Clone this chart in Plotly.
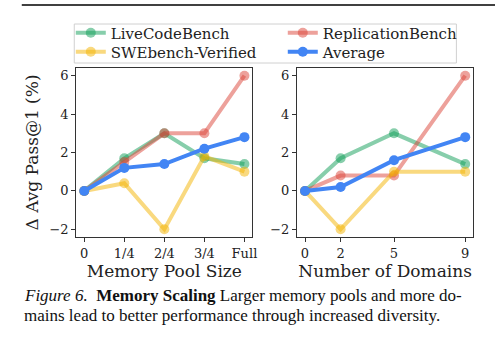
import plotly.graph_objects as go

series = ["LiveCodeBench", "ReplicationBench", "SWEbench-Verified", "Average"]
colors = ["rgba(15,157,88,0.5)", "rgba(219,68,55,0.5)", "rgba(244,180,0,0.5)", "rgba(66,133,244,1)"]
legend_rows = ["legend", "legend", "legend2", "legend2"]

pool_x = [0, 1, 2, 3, 4]
pool_labels = ["0", "1/4", "2/4", "3/4", "Full"]
pool_vals = {
    "LiveCodeBench": [0, 1.7, 3.0, 1.7, 1.4],
    "ReplicationBench": [0, 1.5, 3.0, 3.0, 6.0],
    "SWEbench-Verified": [0, 0.4, -2.0, 1.8, 1.0],
    "Average": [0, 1.2, 1.4, 2.2, 2.8],
}

dom_x = [0, 2, 5, 9]
dom_vals = {
    "LiveCodeBench": [0, 1.7, 3.0, 1.4],
    "ReplicationBench": [0, 0.8, 0.8, 6.0],
    "SWEbench-Verified": [0, -2.0, 1.0, 1.0],
    "Average": [0, 0.2, 1.6, 2.8],
}

y_ticks = [-2, 0, 2, 4, 6]

FONT = "DejaVu Serif, Liberation Serif, serif"
fig = go.Figure()

for name, col, lg in zip(series, colors, legend_rows):
    fig.add_trace(go.Scatter(
        x=pool_x, y=pool_vals[name], mode="lines+markers", name=name,
        line=dict(color=col, width=4), marker=dict(color=col, size=10),
        xaxis="x", yaxis="y", legendgroup=name, showlegend=True, legend=lg))
for name, col in zip(series, colors):
    fig.add_trace(go.Scatter(
        x=dom_x, y=dom_vals[name], mode="lines+markers", name=name,
        line=dict(color=col, width=4), marker=dict(color=col, size=10),
        xaxis="x2", yaxis="y2", legendgroup=name, showlegend=False))

axis_common = dict(showgrid=False, zeroline=False, showline=True, mirror=True,
                   linecolor="#333", linewidth=1, ticks="outside", ticklen=4,
                   tickcolor="#333", tickfont=dict(family=FONT, size=13, color="#222"))

legend_common = dict(orientation="h", xanchor="left", yanchor="middle",
                     entrywidth=167, entrywidthmode="pixels", bgcolor="rgba(0,0,0,0)",
                     borderwidth=0, font=dict(family=FONT, size=15, color="#222"), itemwidth=30)

fig.update_layout(
    width=500, height=344, margin=dict(l=0, r=0, t=0, b=0),
    paper_bgcolor="white", plot_bgcolor="white",
    xaxis=dict(domain=[0.154, 0.51], range=[-0.2, 4.2], tickvals=pool_x, ticktext=pool_labels,
               title=dict(text="Memory Pool Size", font=dict(family=FONT, size=17, color="#222"), standoff=4),
               anchor="y", **axis_common),
    yaxis=dict(domain=[0.311, 0.8023], range=[-2.4, 6.4], tickvals=y_ticks,
               title=dict(text="Δ Avg Pass@1 (%)", font=dict(family=FONT, size=17, color="#222"), standoff=6),
               anchor="x", **axis_common),
    xaxis2=dict(domain=[0.6, 0.956], range=[-0.45, 9.45], tickvals=dom_x,
                title=dict(text="Number of Domains", font=dict(family=FONT, size=17, color="#222"), standoff=4),
                anchor="y2", **axis_common),
    yaxis2=dict(domain=[0.311, 0.8023], range=[-2.4, 6.4], tickvals=y_ticks,
                anchor="x2", **axis_common),
    legend=dict(x=0.143, y=1 - 33 / 344, **legend_common),
    legend2=dict(x=0.143, y=1 - 52 / 344, **legend_common),
    showlegend=True,
)

# legend frame
fig.add_shape(type="rect", xref="paper", yref="paper", x0=75 / 500, x1=461 / 500,
              y0=1 - 63 / 344, y1=1 - 24 / 344, fillcolor="white",
              line=dict(color="#d0d0d0", width=1), layer="above")

fig.add_shape(type="line", xref="paper", yref="paper", x0=0.044, x1=1.0, y0=0.9855, y1=0.9855,
              line=dict(color="black", width=1.5))

cap_font = dict(family="Liberation Serif", size=17, color="#111")
fig.add_annotation(xref="paper", yref="paper", x=0.044, y=1 - 295 / 344, xanchor="left", yanchor="middle",
                   text="<i>Figure 6.</i>  <b>Memory Scaling</b> Larger memory pools and more do-",
                   showarrow=False, font=cap_font, align="left")
fig.add_annotation(xref="paper", yref="paper", x=0.044, y=1 - 315 / 344, xanchor="left", yanchor="middle",
                   text="mains lead to better performance through increased diversity.",
                   showarrow=False, font=cap_font, align="left")

fig.write_html("out.html")
